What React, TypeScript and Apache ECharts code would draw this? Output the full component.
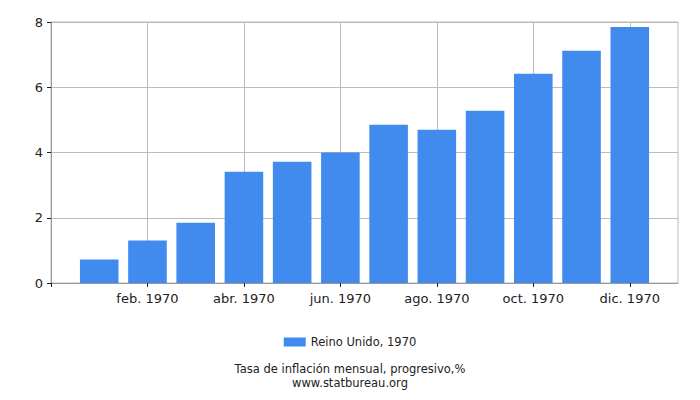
import * as echarts from 'echarts';
import React, { useEffect, useRef } from 'react';

// monthly progressive inflation, United Kingdom, 1970
const months = ['ene. 1970', 'feb. 1970', 'mar. 1970', 'abr. 1970', 'may. 1970', 'jun. 1970',
  'jul. 1970', 'ago. 1970', 'sept. 1970', 'oct. 1970', 'nov. 1970', 'dic. 1970'];
const values = [0.72, 1.3, 1.85, 3.41, 3.72, 4.0, 4.85, 4.7, 5.28, 6.41, 7.12, 7.85];
const yTicks = [0, 2, 4, 6, 8];
const seriesName = 'Reino Unido, 1970';

const App: React.FC = () => {
  const chartRef = useRef<HTMLDivElement>(null);

  useEffect(() => {
    document.body.style.margin = '0';
    const myChart = echarts.init(chartRef.current!, null, { renderer: 'svg' });

    // empty slot before and after so the bars sit half a step in from the edges
    const cats = ['', ...months, ''];
    const data = [null, ...values, null];
    const even = (i: number) => i % 2 === 0 && i < cats.length - 1;
    const footStyle = { fontSize: 11.5, lineHeight: 12, fontWeight: 'normal', color: '#222' };

    const option = {
      animation: false,
      textStyle: { fontFamily: 'DejaVu Sans' },
      grid: { left: 51, right: 22, top: 22, bottom: 117, show: true, borderColor: '#bbb', borderWidth: 1 },
      legend: {
        data: [seriesName],
        top: 331,
        left: 'center',
        icon: 'rect',
        itemWidth: 22,
        itemHeight: 9,
        itemGap: 4,
        textStyle: { fontSize: 11.5, color: '#222' },
      },
      title: [
        { text: 'Tasa de inflación mensual, progresivo,%', left: 'center', top: 363, padding: 0, textStyle: footStyle },
        { text: 'www.statbureau.org', left: 'center', top: 377, padding: 0, textStyle: footStyle },
      ],
      xAxis: {
        type: 'category',
        data: cats,
        boundaryGap: false,
        axisLine: { lineStyle: { color: '#999' } },
        axisTick: { interval: (i: number) => even(i), length: 4, lineStyle: { color: '#222' } },
        axisLabel: { interval: (i: number) => even(i) && i > 0, fontSize: 13, color: '#222', margin: 9 },
        splitLine: { show: true, interval: (i: number) => even(i) && i > 0, lineStyle: { color: '#bbb' } },
      },
      yAxis: {
        type: 'value',
        min: yTicks[0],
        max: yTicks[yTicks.length - 1],
        interval: 2,
        axisLine: { show: true, lineStyle: { color: '#999' } },
        axisTick: { show: true, length: 4, lineStyle: { color: '#222' } },
        axisLabel: { fontSize: 13, color: '#222', margin: 8 },
        splitLine: { lineStyle: { color: '#bbb' } },
      },
      series: [
        {
          name: seriesName,
          type: 'bar',
          data,
          barWidth: '80%',
          itemStyle: { color: '#418bef' },
        },
      ],
    };

    myChart.setOption(option);

    return () => {
      myChart.dispose();
    };
  }, []);

  return <div ref={chartRef} style={{ width: '700px', height: '400px' }} />;
};

export default App;
